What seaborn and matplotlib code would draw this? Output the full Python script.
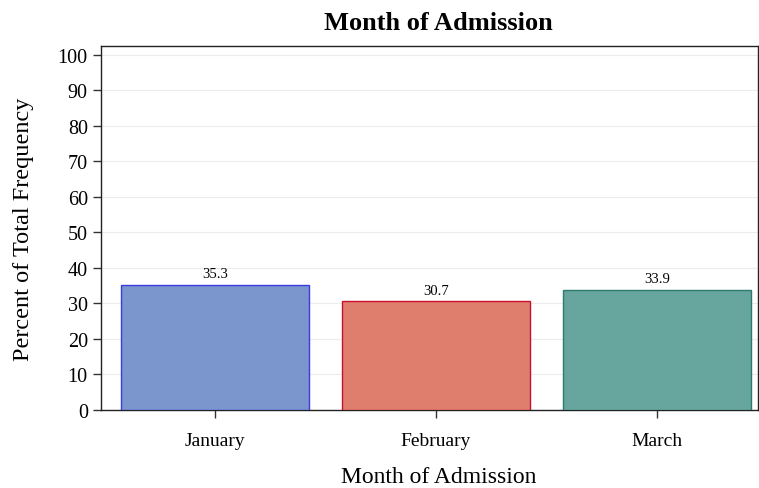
import numpy as np
import pandas as pd
import matplotlib
matplotlib.use('Agg')
import matplotlib.pyplot as plt
import seaborn as sns

# 입원 월별 빈도 비율 (%)
months = ['January', 'February', 'March']
percents = [35.3, 30.7, 33.9]
fill_colors = ['#7b96cc', '#e07e6e', '#67a69f']
edge_colors = ['#3a3ae0', '#c8102e', '#2a7a70']

df = pd.DataFrame({'month': months, 'percent': percents})

sns.set_style('white')
plt.rcParams['font.family'] = ['Liberation Serif', 'DejaVu Serif']
plt.rcParams['text.color'] = 'black'
plt.rcParams['axes.labelcolor'] = 'black'

fig = plt.figure(figsize=(7.59, 4.89), dpi=100)
ax = fig.add_axes([101/759, 78/489, 657/759, 364/489])

sns.barplot(data=df, x='month', y='percent', hue='month',
            palette=dict(zip(months, fill_colors)), width=0.85,
            saturation=1, legend=False, ax=ax, zorder=3)

for patch, ec in zip(ax.patches, edge_colors):
    patch.set_edgecolor(ec)
    patch.set_linewidth(1.0)

for i, v in enumerate(percents):
    ax.text(i, v + 1.2, f'{v:.1f}', ha='center', va='bottom', fontsize=10.5,
            color='black')

ax.set_ylim(0, 102.5)
ax.set_xlim(-0.516, 2.457)
ax.set_yticks(range(0, 101, 10))
ax.yaxis.grid(True, color='#ececec', linewidth=0.8, zorder=0)
ax.set_axisbelow(True)

ax.tick_params(axis='both', direction='out', length=6, width=1, colors='#333333',
               labelsize=14, labelcolor='black', bottom=True, left=True)
ax.tick_params(axis='y', labelsize=14.5)
ax.tick_params(axis='x', pad=10)
for side in ['left', 'bottom', 'top', 'right']:
    ax.spines[side].set_color('#222222')
    ax.spines[side].set_linewidth(1)

ax.set_xlabel('Month of Admission', fontsize=17, labelpad=12, x=0.514)
ax.set_ylabel('Percent of Total Frequency', fontsize=17.5, labelpad=17)
ax.set_title('Month of Admission', fontsize=19, fontweight='bold', pad=12, x=0.514)

fig.savefig('out.png', dpi=100)
